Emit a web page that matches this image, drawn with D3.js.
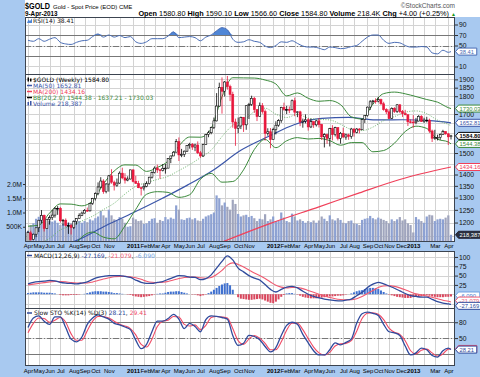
<!DOCTYPE html>
<html>
<head>
<meta charset="utf-8">
<script src="https://cdn.jsdelivr.net/npm/d3@7"></script>
<style>
  body { margin: 0; background: #fff; }
  svg { display: block; font-family: "Liberation Sans", Arial, sans-serif; }
</style>
</head>
<body>
<svg id="chart" width="480" height="377"></svg>
<script>
// weekly bars, Apr 9 2010 .. Apr 12 2013
const opens = [
  1127,1161,1136,1156,1180,1209,1228,1177,1213,1219, 1229,1256,1256,1207,1209,1189,1189,1181,1204,1215,
  1228,1237,1248,1246,1276,1296,1317,1345,1371,1325, 1358,1394,1366,1353,1362,1406,1385,1375,1380,1421,
  1369,1360,1342,1341,1348,1360,1388,1409,1429,1421, 1418,1428,1429,1474,1486,1504,1556,1491,1493,1509,
  1536,1542,1529,1539,1501,1486,1542,1592,1601,1628, 1663,1744,1852,1829,1884,1856,1811,1657,1624,1636,
  1682,1642,1746,1753,1788,1724,1686,1746,1713,1598, 1606,1566,1617,1640,1664,1737,1725,1725,1724,1774,
  1710,1712,1657,1662,1669,1631,1659,1642,1663,1644, 1580,1591,1572,1622,1591,1627,1572,1598,1579,1590,
  1582,1620,1603,1620,1616,1670,1691,1738,1768,1773, 1772,1780,1757,1724,1712,1676,1731,1714,1751,1713,
  1702,1696,1658,1657,1656,1662,1687,1659,1667,1667, 1610,1573,1576,1577,1592,1607,1595,1580.8
];
const highs = [
  1169,1169,1158,1180,1210,1249,1231,1214,1228,1250, 1261,1265,1262,1214,1216,1200,1194,1208,1216,1236,
  1243,1253,1259,1276,1299,1322,1365,1388,1379,1362, 1398,1424,1373,1382,1414,1431,1406,1392,1422,1423,
  1394,1372,1346,1360,1370,1390,1414,1437,1445,1425, 1448,1448,1476,1487,1509,1569,1577,1520,1512,1537,
  1550,1549,1545,1557,1510,1545,1595,1611,1632,1681, 1818,1880,1912,1890,1921,1868,1826,1675,1681,1686,
  1684,1748,1762,1803,1796,1724,1764,1761,1725,1624, 1625,1627,1661,1672,1740,1763,1745,1742,1781,1792,
  1714,1718,1675,1698,1678,1675,1660,1668,1678,1647, 1598,1596,1626,1640,1632,1628,1605,1627,1596,1596,
  1626,1625,1625,1625,1674,1692,1741,1778,1779,1788, 1796,1786,1768,1732,1726,1737,1738,1755,1754,1722,
  1723,1698,1671,1694,1679,1694,1694,1680,1685,1675, 1617,1616,1591,1597,1616,1608,1600,1590.1
];
const lows = [
  1126,1132,1134,1145,1164,1197,1166,1176,1192,1210, 1219,1230,1200,1188,1185,1157,1155,1175,1192,1214,
  1225,1235,1242,1243,1270,1288,1310,1339,1316,1318, 1325,1359,1330,1346,1359,1379,1360,1370,1378,1365,
  1361,1340,1309,1330,1344,1356,1382,1405,1407,1381, 1414,1404,1428,1452,1485,1503,1462,1480,1481,1505,
  1521,1515,1509,1495,1478,1481,1540,1578,1593,1620, 1660,1740,1702,1798,1838,1772,1627,1535,1598,1620,
  1605,1616,1673,1745,1706,1662,1686,1702,1561,1586, 1523,1565,1592,1632,1653,1718,1700,1705,1720,1688,
  1683,1635,1627,1650,1612,1625,1626,1633,1628,1564, 1527,1545,1532,1562,1582,1562,1546,1575,1565,1565,
  1570,1581,1598,1598,1615,1652,1686,1722,1754,1757, 1765,1750,1718,1700,1673,1673,1706,1706,1705,1684,
  1693,1636,1650,1627,1645,1660,1658,1652,1655,1600, 1554,1565,1562,1565,1590,1591,1539,1566.6
];
const closes = [
  1162,1136,1156,1180,1209,1228,1177,1213,1219,1229, 1256,1256,1207,1209,1189,1189,1181,1204,1215,1228,
  1237,1248,1246,1276,1296,1317,1345,1371,1325,1358, 1394,1366,1353,1362,1406,1385,1375,1380,1421,1369,
  1360,1342,1341,1348,1360,1388,1409,1429,1421,1418, 1428,1429,1474,1486,1504,1556,1491,1493,1509,1536,
  1542,1529,1539,1501,1486,1542,1592,1601,1628,1663, 1744,1852,1829,1884,1856,1811,1657,1624,1636,1682,
  1642,1746,1753,1788,1724,1686,1746,1713,1598,1606, 1566,1617,1640,1664,1737,1725,1725,1724,1774,1710,
  1712,1657,1662,1669,1631,1659,1642,1663,1644,1580, 1591,1572,1622,1591,1627,1572,1598,1579,1590,1582,
  1620,1603,1620,1616,1670,1691,1738,1768,1773,1772, 1780,1757,1724,1712,1676,1731,1714,1751,1713,1702,
  1696,1658,1657,1656,1662,1687,1659,1667,1667,1610, 1573,1576,1577,1592,1607,1595,1580,1584.8
];
// volume in thousands
const volumeK = [
  350,560,620,780,850,900,720,640,700,680, 720,640,560,600,580,640,620,720,680,700,
  640,700,660,760,720,800,860,1050,900,820, 1100,900,760,720,840,780,640,500,520,820,
  760,700,720,600,620,700,780,800,640,740, 700,840,760,820,780,1250,1100,760,740,800,
  820,760,800,720,700,780,860,900,940,1000, 1600,1500,1250,1350,1200,1100,1450,1300,950,860,
  900,920,840,880,800,700,780,760,940,700, 760,860,700,720,1000,820,700,660,960,860,
  720,760,700,640,700,660,720,640,720,860, 780,700,900,760,720,800,740,640,620,700,
  720,620,600,560,740,780,800,880,800,760, 820,780,740,700,620,760,700,760,840,720,
  760,620,560,300,840,760,700,640,860,920, 900,700,760,780,760,820,900,218.4
];
// MACD histogram, weekly
const macdHist = [
  3,4,5,5,5,5,4,4,4,3, 2,0,-2,-3,-3,-3,-2,-2,-2,-1,
  0,1,3,5,7,8,8,8,7,7, 6,5,3,3,2,1,0,-1,-2,-4,
  -6,-7,-8,-7,-6,-5,-3,-1,1,2, 2,4,6,7,7,8,8,6,4,2,
  0,-1,-1,-3,-5,-3,-1,3,7,12, 17,22,26,29,30,24,12,0,-8,-12,
  -13,-14,-15,-15,-14,-13,-12,-14,-17,-20, -23,-24,-20,-14,-7,-2,2,3,3,1,
  -1,-4,-7,-9,-10,-11,-11,-11,-10,-9, -8,-7,-6,-6,-5,-4,-4,-3,-1,0,
  2,5,8,10,11,14,16,17,17,16, 14,10,6,2,-1,-3,-5,-7,-8,-9,
  -10,-10,-10,-8,-7,-6,-6,-5,-3,-4, -6,-7,-8,-8,-8,-7,-7,-6.09
];

// overlays, every 4th week
const bbUpper = [1186,1190,1237,1274,1273,1266,1287,1358,1416,1444, 1443,1414,1432,1462,1534,1579,1578,1623,1797,1910,
  1909,1908,1896,1872,1802,1819,1788,1771,1775,1752, 1685,1673,1755,1815,1824,1814,1798,1781,1766,1735, 1730.03];
const bbMid = [1120,1122,1141,1172,1187,1206,1225,1251,1277,1315, 1348,1364,1378,1392,1418,1445,1478,1514,1581,1640,
  1665,1713,1732,1699,1681,1698,1678,1671,1668,1645, 1618,1612,1630,1664,1686,1710,1717,1702,1667,1644, 1637.21];
const bbLower = [1053,1055,1045,1070,1100,1146,1164,1145,1139,1187, 1252,1314,1325,1322,1301,1312,1379,1405,1366,1369,
  1421,1517,1567,1526,1560,1576,1569,1572,1561,1538, 1551,1551,1506,1512,1548,1607,1635,1623,1568,1554, 1544.38];
const ma50 = [1100,1137,1189,1238,1292,1352,1422,1513,1580,1644,1676,1682,1668,1669,1664,1652.81];
const ma200Weeks = [60,72,90,108,123,138,157];
const ma200 = [1080,1127,1197,1262,1320,1378,1434.16];

// oscillators, every 2nd week
const rsi = [60,58,63,58,62,65,56,53,52,56, 59,60,67,72,66,70,66,69,65,67, 57,54,57,63,63,63,68,76,65,66,
  67,65,59,66,70,78,84,80,62,56, 57,61,58,56,49,46,50,57,56,59, 54,49,47,47,45,42,47,46,44,45,
  48,50,58,66,70,70,60,54,56,55, 50,47,47,48,47,36,34,41,37, 38.41];
const macd = [28,32,34,35,37,36,32,30,29,28, 30,33,40,45,48,50,50,50,48,45, 38,32,29,29,32,34,40,45,50,49,
  46,45,39,42,52,70,88,103,92,70, 60,50,43,38,26,13,6,13,19,21, 17,8,0,-6,-10,-13,-15,-17,-18,-16,
  -13,-4,5,18,27,32,28,22,16,9, 2,-4,-6,-8,-8,-14,-20,-24,-26, -27.169];
const macdSignal = [25,27,29,31,33,34,34,33,31,30, 30,30,33,37,41,44,47,48,48,47, 44,40,35,32,31,32,34,38,42,45,
  46,46,44,43,45,53,64,78,84,80, 73,65,57,50,42,33,24,19,17,18, 18,15,10,5,0,-5,-9,-12,-14,-15,
  -15,-12,-6,2,10,18,22,23,21,17, 12,6,1,-2,-5,-8,-12,-16,-19, -21.079];
const stoK = [70,88,92,82,76,90,90,70,48,43, 52,76,88,94,90,86,78,75,71,66, 46,30,38,62,82,82,87,95,86,68,
  78,72,62,85,92,91,89,86,55,36, 40,55,53,47,34,24,32,55,74,80, 76,57,41,26,18,18,28,41,37,42,
  48,78,96,99,97,93,76,62,60,55, 35,18,22,31,28,17,14,26,31, 28.21];
const stoD = [60,78,88,87,80,84,89,80,58,46, 46,64,82,91,91,88,82,76,73,68, 56,38,33,48,72,82,84,91,90,76,
  73,75,66,74,89,91,90,88,68,45, 38,48,55,50,40,28,28,43,65,78, 78,66,49,33,22,18,23,35,39,40,
  45,63,87,97,98,95,85,69,61,57, 45,26,20,27,29,22,16,20,29, 29.41];

// tick labels, one per month (blank = not shown)
const monthLabels = ["Apr","May","Jun","Jul","Aug","Sep","Oct","Nov","",
  "2011","Feb","Mar","Apr","May","Jun","Jul","Aug","Sep","Oct","Nov","",
  "2012","Feb","Mar","Apr","May","Jun","Jul","Aug","Sep","Oct","Nov","Dec",
  "2013","","Mar","Apr"];
const priceTicks = [1150,1200,1250,1300,1350,1400,1450,1500,1550,1600,1650,1700,1750,1800,1850,1900];
const volTicks = [500,1000,1500,2000];
const rsiTicks = [10,30,50,70,90];
const macdTicks = [-25,0,25,50,75,100];
const stoTicks = [20,50,80];

const dates = d3.timeFriday.range(new Date(2010, 3, 9), new Date(2013, 3, 13));
const oscWeeks = d3.range(0, 157, 2).concat([157]);
const bbWeeks = d3.range(0, 157, 4).concat([157]);
const ma50Weeks = d3.range(9, 150, 10).concat([157]);

const svg = d3.select('#chart');
const L = 25, R = 455;
const bg = '#a8c9f0';
const red = '#e8173c', blue = '#2f4a9c', green = '#3b8a3b';

let panels = {
  rsi: { top: 17, bottom: 74 },
  price: { top: 74, bottom: 241 },
  macd: { top: 251, bottom: 308 },
  sto: { top: 308, bottom: 365 }
};

const x = d3.scaleTime().domain([dates[0], dates[dates.length - 1]]).range([28, 451]);
const yPrice = d3.scaleLog().domain([1131, 1933]).range([241, 74]);
const yVol = d3.scaleLinear().domain([0, 2000]).range([241, 184]);
const yRsi = d3.scaleLinear().domain([-4.3, 104.3]).range([74, 17]);
const yMacd = d3.scaleLinear().domain([-37, 116]).range([308, 251]);
const ySto = d3.scaleLinear().domain([-1, 107]).range([365, 308]);

const monthStarts = dates.filter((d, i) => i === 0 || d.getMonth() !== dates[i - 1].getMonth());

// right-edge value tags: [y, text, stroke, fill, text colour, bold]
const tags = [
  [yPrice(1730.03), '1730.03', green, '#fff', green],
  [yPrice(1652.81), '1652.81', '#3a55a8', '#fff', '#3a55a8'],
  [yPrice(1544.38), '1544.38', green, '#fff', green],
  [yPrice(1584.80), '1584.80', '#000', '#fff', '#000', true],
  [yPrice(1434.16), '1434.16', '#f0405a', '#fff', '#f0405a'],
  [yVol(218.4), '218,387', '#223', '#2a3040', '#fff'],
  [yRsi(38.41), '38.41', '#4a6db5', '#fff', '#4a6db5'],
  [yMacd(-6.09) - 1, '-6.090', '#6fa0e0', '#fff', '#4a80d0'],
  [yMacd(-21.079) - 1.5, '-21.079', '#f05a70', '#fff', '#f05a70'],
  [yMacd(-27.169) + 1.5, '-27.169', blue, '#fff', blue],
  [ySto(29.41), '29.41', '#f04a64', '#fff', '#f04a64'],
  [ySto(28.21), '28.21', blue, '#fff', blue]
];
const tagYs = tags.map(t => t[0]);

// background
svg.append('rect').attr('width', 480).attr('height', 377).attr('fill', bg);
svg.append('rect').attr('x', L).attr('y', 0).attr('width', 480 - L).attr('height', 17).attr('fill', '#fff');

const defs = svg.append('defs');
Object.keys(panels).forEach(k => {
  let p = panels[k];
  svg.append('rect').attr('x', L).attr('y', p.top).attr('width', R - L).attr('height', p.bottom - p.top)
    .attr('fill', '#fff');
  defs.append('clipPath').attr('id', 'clip-' + k)
    .append('rect').attr('x', L).attr('y', p.top).attr('width', R - L).attr('height', p.bottom - p.top);
  // vertical grid
  svg.append('g').selectAll('line').data(monthStarts).enter().append('line')
    .attr('x1', d => Math.round(x(d)) + 0.5).attr('x2', d => Math.round(x(d)) + 0.5)
    .attr('y1', p.top).attr('y2', p.bottom)
    .attr('stroke', '#d3d3d3').attr('stroke-width', 1);
});

function hGrid(scale, ticks) {
  svg.append('g').selectAll('line').data(ticks).enter().append('line')
    .attr('x1', L).attr('x2', R)
    .attr('y1', d => Math.round(scale(d)) + 0.5).attr('y2', d => Math.round(scale(d)) + 0.5)
    .attr('stroke', '#d3d3d3');
}
function refLine(scale, v, dash) {
  svg.append('line').attr('x1', L).attr('x2', R)
    .attr('y1', Math.round(scale(v)) + 0.5).attr('y2', Math.round(scale(v)) + 0.5)
    .attr('stroke', '#777').attr('stroke-width', 1)
    .attr('stroke-dasharray', dash || null);
}
function rightAxis(scale, ticks) {
  // labels hidden behind a value tag are left out, as in the original
  let shown = ticks.filter(v => tagYs.every(ty => Math.abs(scale(v) - ty) > 4.5));
  let g = svg.append('g').attr('transform', `translate(${R},0)`)
    .call(d3.axisRight(scale).tickValues(shown).tickSize(3).tickFormat(d3.format('d')));
  g.select('.domain').remove();
  g.selectAll('line').attr('stroke', '#333');
  g.selectAll('text').attr('font-size', 6.8).attr('fill', '#111').attr('x', 4)
    .attr('font-family', '"Liberation Sans", Arial, sans-serif');
}
function timeAxis(y) {
  let g = svg.append('g').attr('transform', `translate(0,${y})`)
    .call(d3.axisBottom(x).tickValues(monthStarts).tickSize(0).tickFormat((d, i) => monthLabels[i]));
  g.select('.domain').remove();
  g.selectAll('text').attr('y', 0).attr('dy', '0.35em').attr('font-size', 6).attr('fill', '#000')
    .attr('font-family', '"Liberation Sans", Arial, sans-serif')
    .attr('font-weight', (d, i) => /^\d{4}$/.test(monthLabels[i]) ? 'bold' : 'normal')
    .attr('dx', (d, i) => monthLabels[i] === 'Dec' ? -1.5 : (monthLabels[i] === 'Feb' ? 1.2 : 0));
}
function linePath(weeks, values, scale) {
  return d3.line()
    .x((d, i) => x(dates[weeks[i]]))
    .y(d => scale(d))
    .curve(d3.curveMonotoneX)(values);
}
function tag(y, text, stroke, fill, color, bold) {
  let w = text.length * 3.05 + 3;
  svg.append('path')
    .attr('d', `M${R + 0.5},${y} L${R + 3.5},${y - 3.5} L${R + 3.5 + w},${y - 3.5} L${R + 3.5 + w},${y + 3.5} L${R + 3.5},${y + 3.5} Z`)
    .attr('fill', fill).attr('stroke', stroke).attr('stroke-width', 1);
  svg.append('text').attr('x', R + 4.5).attr('y', y + 2.2).text(text)
    .attr('font-size', 5.8).attr('fill', color).attr('font-weight', bold ? 'bold' : 'normal');
}

// ---- RSI panel
hGrid(yRsi, rsiTicks);
refLine(yRsi, 70);
refLine(yRsi, 30);
refLine(yRsi, 50, '6,2,1,2');
let rsiG = svg.append('g').attr('clip-path', 'url(#clip-rsi)');
rsiG.append('path')
  .attr('d', d3.area()
    .x((d, i) => x(dates[oscWeeks[i]]))
    .y0(yRsi(70))
    .y1(d => yRsi(Math.max(d, 70)))
    .curve(d3.curveMonotoneX)(rsi))
  .attr('fill', '#4f86d6');
rsiG.append('path').attr('d', linePath(oscWeeks, rsi, yRsi))
  .attr('fill', 'none').attr('stroke', '#4a6db5').attr('stroke-width', 1);
rightAxis(yRsi, rsiTicks);

// ---- price panel
hGrid(yPrice, priceTicks);
let pg = svg.append('g').attr('clip-path', 'url(#clip-price)');

pg.selectAll('.vol').data(volumeK).enter().append('rect')
  .attr('class', 'vol')
  .attr('x', (d, i) => x(dates[i]) - 1.1)
  .attr('width', 2.2)
  .attr('y', d => yVol(d))
  .attr('height', d => yVol(0) - yVol(d))
  .attr('fill', (d, i) => (i > 0 && closes[i] < closes[i - 1]) ? '#a0a5bd' : '#8da1d2');

pg.append('path').attr('d', linePath(ma200Weeks, ma200, yPrice))
  .attr('fill', 'none').attr('stroke', '#f0405a').attr('stroke-width', 1.2);
pg.append('path').attr('d', linePath(ma50Weeks, ma50, yPrice))
  .attr('fill', 'none').attr('stroke', '#3a55a8').attr('stroke-width', 1.2);
pg.append('path').attr('d', linePath(bbWeeks, bbUpper, yPrice))
  .attr('fill', 'none').attr('stroke', green).attr('stroke-width', 1);
pg.append('path').attr('d', linePath(bbWeeks, bbLower, yPrice))
  .attr('fill', 'none').attr('stroke', green).attr('stroke-width', 1);
pg.append('path').attr('d', linePath(bbWeeks, bbMid, yPrice))
  .attr('fill', 'none').attr('stroke', '#6fb46f').attr('stroke-width', 1).attr('stroke-dasharray', '1,1.5');

let candle = pg.selectAll('.candle').data(closes).enter().append('g').attr('class', 'candle');
candle.append('line')
  .attr('x1', (d, i) => x(dates[i])).attr('x2', (d, i) => x(dates[i]))
  .attr('y1', (d, i) => yPrice(highs[i])).attr('y2', (d, i) => yPrice(lows[i]))
  .attr('stroke', (d, i) => (i > 0 && d < closes[i - 1]) ? red : '#000')
  .attr('stroke-width', 0.8);
candle.append('rect')
  .attr('x', (d, i) => x(dates[i]) - 1)
  .attr('width', 2)
  .attr('y', (d, i) => yPrice(Math.max(opens[i], d)))
  .attr('height', (d, i) => Math.max(0.8, Math.abs(yPrice(opens[i]) - yPrice(d))))
  .attr('fill', (d, i) => d > opens[i] ? '#fff' : ((i > 0 && d < closes[i - 1]) ? red : '#000'))
  .attr('stroke', (d, i) => (i > 0 && d < closes[i - 1]) ? red : '#000')
  .attr('stroke-width', 0.6);

rightAxis(yPrice, priceTicks);
let vg = svg.append('g').attr('transform', `translate(${L},0)`)
  .call(d3.axisLeft(yVol).tickValues(volTicks).tickSize(2)
    .tickFormat(d => d < 1000 ? d + 'K' : d3.format('.1f')(d / 1000) + 'M'));
vg.select('.domain').remove();
vg.selectAll('line').attr('stroke', '#333');
vg.selectAll('text').attr('font-size', 6.8).attr('fill', '#111').attr('x', -3)
  .attr('font-family', '"Liberation Sans", Arial, sans-serif');

// ---- MACD panel
hGrid(yMacd, macdTicks);
let mg = svg.append('g').attr('clip-path', 'url(#clip-macd)');
mg.selectAll('.hist').data(macdHist).enter().append('rect')
  .attr('x', (d, i) => x(dates[i]) - 1)
  .attr('width', 2)
  .attr('y', d => yMacd(Math.max(0, d)))
  .attr('height', d => Math.abs(yMacd(d) - yMacd(0)))
  .attr('fill', d => d >= 0 ? '#3f70cf' : '#d9475d');
mg.append('path').attr('d', linePath(oscWeeks, macdSignal, yMacd))
  .attr('fill', 'none').attr('stroke', '#f05a70').attr('stroke-width', 1.1);
mg.append('path').attr('d', linePath(oscWeeks, macd, yMacd))
  .attr('fill', 'none').attr('stroke', blue).attr('stroke-width', 1.3);
rightAxis(yMacd, macdTicks);

// ---- STO panel
hGrid(ySto, stoTicks);
refLine(ySto, 80);
refLine(ySto, 20);
refLine(ySto, 50, '6,2,1,2');
let sg = svg.append('g').attr('clip-path', 'url(#clip-sto)');
sg.append('path').attr('d', linePath(oscWeeks, stoD, ySto))
  .attr('fill', 'none').attr('stroke', '#f04a64').attr('stroke-width', 1.1);
sg.append('path').attr('d', linePath(oscWeeks, stoK, ySto))
  .attr('fill', 'none').attr('stroke', blue).attr('stroke-width', 1.3);
rightAxis(ySto, stoTicks);

// panel borders
Object.keys(panels).forEach(k => {
  let p = panels[k];
  svg.append('rect').attr('x', L + 0.5).attr('y', p.top + 0.5)
    .attr('width', R - L - 1).attr('height', p.bottom - p.top)
    .attr('fill', 'none').attr('stroke', '#3c4450').attr('stroke-width', 1);
});

timeAxis(246);
timeAxis(371);

tags.forEach(t => tag(t[0], t[1], t[2], t[3], t[4], t[5]));

// ---- header
svg.append('text').attr('x', 25).attr('y', 9).text('$GOLD')
  .attr('font-size', 8.5).attr('font-weight', 'bold').attr('fill', '#000')
  .attr('textLength', 25).attr('lengthAdjust', 'spacingAndGlyphs');
svg.append('text').attr('x', 53).attr('y', 8.5).text('Gold - Spot Price (EOD) CME')
  .attr('font-size', 6).attr('fill', '#000');
svg.append('text').attr('x', 25).attr('y', 15.5).text('9-Apr-2013')
  .attr('font-size', 6.3).attr('font-weight', 'bold').attr('fill', '#000');
svg.append('text').attr('x', 455).attr('y', 7.5).attr('text-anchor', 'end').text('\u00A9StockCharts.com')
  .attr('font-size', 6.5).attr('fill', '#555');
let quote = svg.append('text').attr('x', 456).attr('y', 15.5).attr('text-anchor', 'end')
  .attr('font-size', 7.3).attr('fill', '#000');
[['Open ', true], ['1580.80 ', false], ['High ', true], ['1590.10 ', false], ['Low ', true],
 ['1566.60 ', false], ['Close ', true], ['1584.80 ', false], ['Volume ', true], ['218.4K ', false],
 ['Chg ', true], ['+4.00 (+0.25%) ', false]].forEach(t => {
  quote.append('tspan').text(t[0]).attr('font-weight', t[1] ? 'bold' : 'normal');
});
quote.append('tspan').text('\u25B2').attr('fill', '#1a9a1a').attr('font-size', 5);

// ---- legends
const legendFont = '"DejaVu Sans", sans-serif';
function legend(xp, y, parts) {
  let t = svg.append('text').attr('x', xp).attr('y', y).attr('font-size', 6).attr('font-family', legendFont);
  parts.forEach(p => t.append('tspan').text(p[0]).attr('fill', p[1]));
}
function swatch(y, color) {
  svg.append('line').attr('x1', 27).attr('x2', 32).attr('y1', y - 2).attr('y2', y - 2)
    .attr('stroke', color).attr('stroke-width', 1.5);
}
svg.append('path').attr('d', 'M27,23 L28.5,19.5 L30,21 L32,18.5 L32,23 Z').attr('fill', '#4f86d6');
legend(33, 23, [['RSI(14) 38.41', '#222']]);

svg.append('rect').attr('x', 27.5).attr('y', 77.5).attr('width', 1.5).attr('height', 4).attr('fill', '#000');
svg.append('rect').attr('x', 30).attr('y', 78.5).attr('width', 1.5).attr('height', 3).attr('fill', '#000');
legend(33, 81.5, [['$GOLD (Weekly) 1584.80', '#000']]);
swatch(87.5, '#3a55a8');
legend(33, 87.5, [['MA(50) 1652.81', '#3a55a8']]);
swatch(93.5, '#f0405a');
legend(33, 93.5, [['MA(200) 1434.16', '#f0405a']]);
swatch(99.5, '#000');
legend(33, 99.5, [['BB(20,2.0) 1544.38 - 1637.21 - 1730.03', green]]);
svg.append('rect').attr('x', 27.5).attr('y', 102).attr('width', 1.5).attr('height', 3.5).attr('fill', '#3a55a8');
svg.append('rect').attr('x', 30).attr('y', 101).attr('width', 1.5).attr('height', 4.5).attr('fill', '#3a55a8');
legend(33, 105.5, [['Volume 218,387', '#3a55a8']]);

swatch(257.5, blue);
legend(34, 257.5, [['MACD(12,26,9) ', '#111'], ['-27.169', blue], [', ', '#111'],
  ['-21.079', '#f05a70'], [', ', '#111'], ['-6.090', '#6fa0e0']]);
swatch(315, blue);
legend(34, 315, [['Slow STO %K(14) %D(3) ', '#111'], ['28.21', blue], [', ', '#111'], ['29.41', '#f04a64']]);
</script>
</body>
</html>
